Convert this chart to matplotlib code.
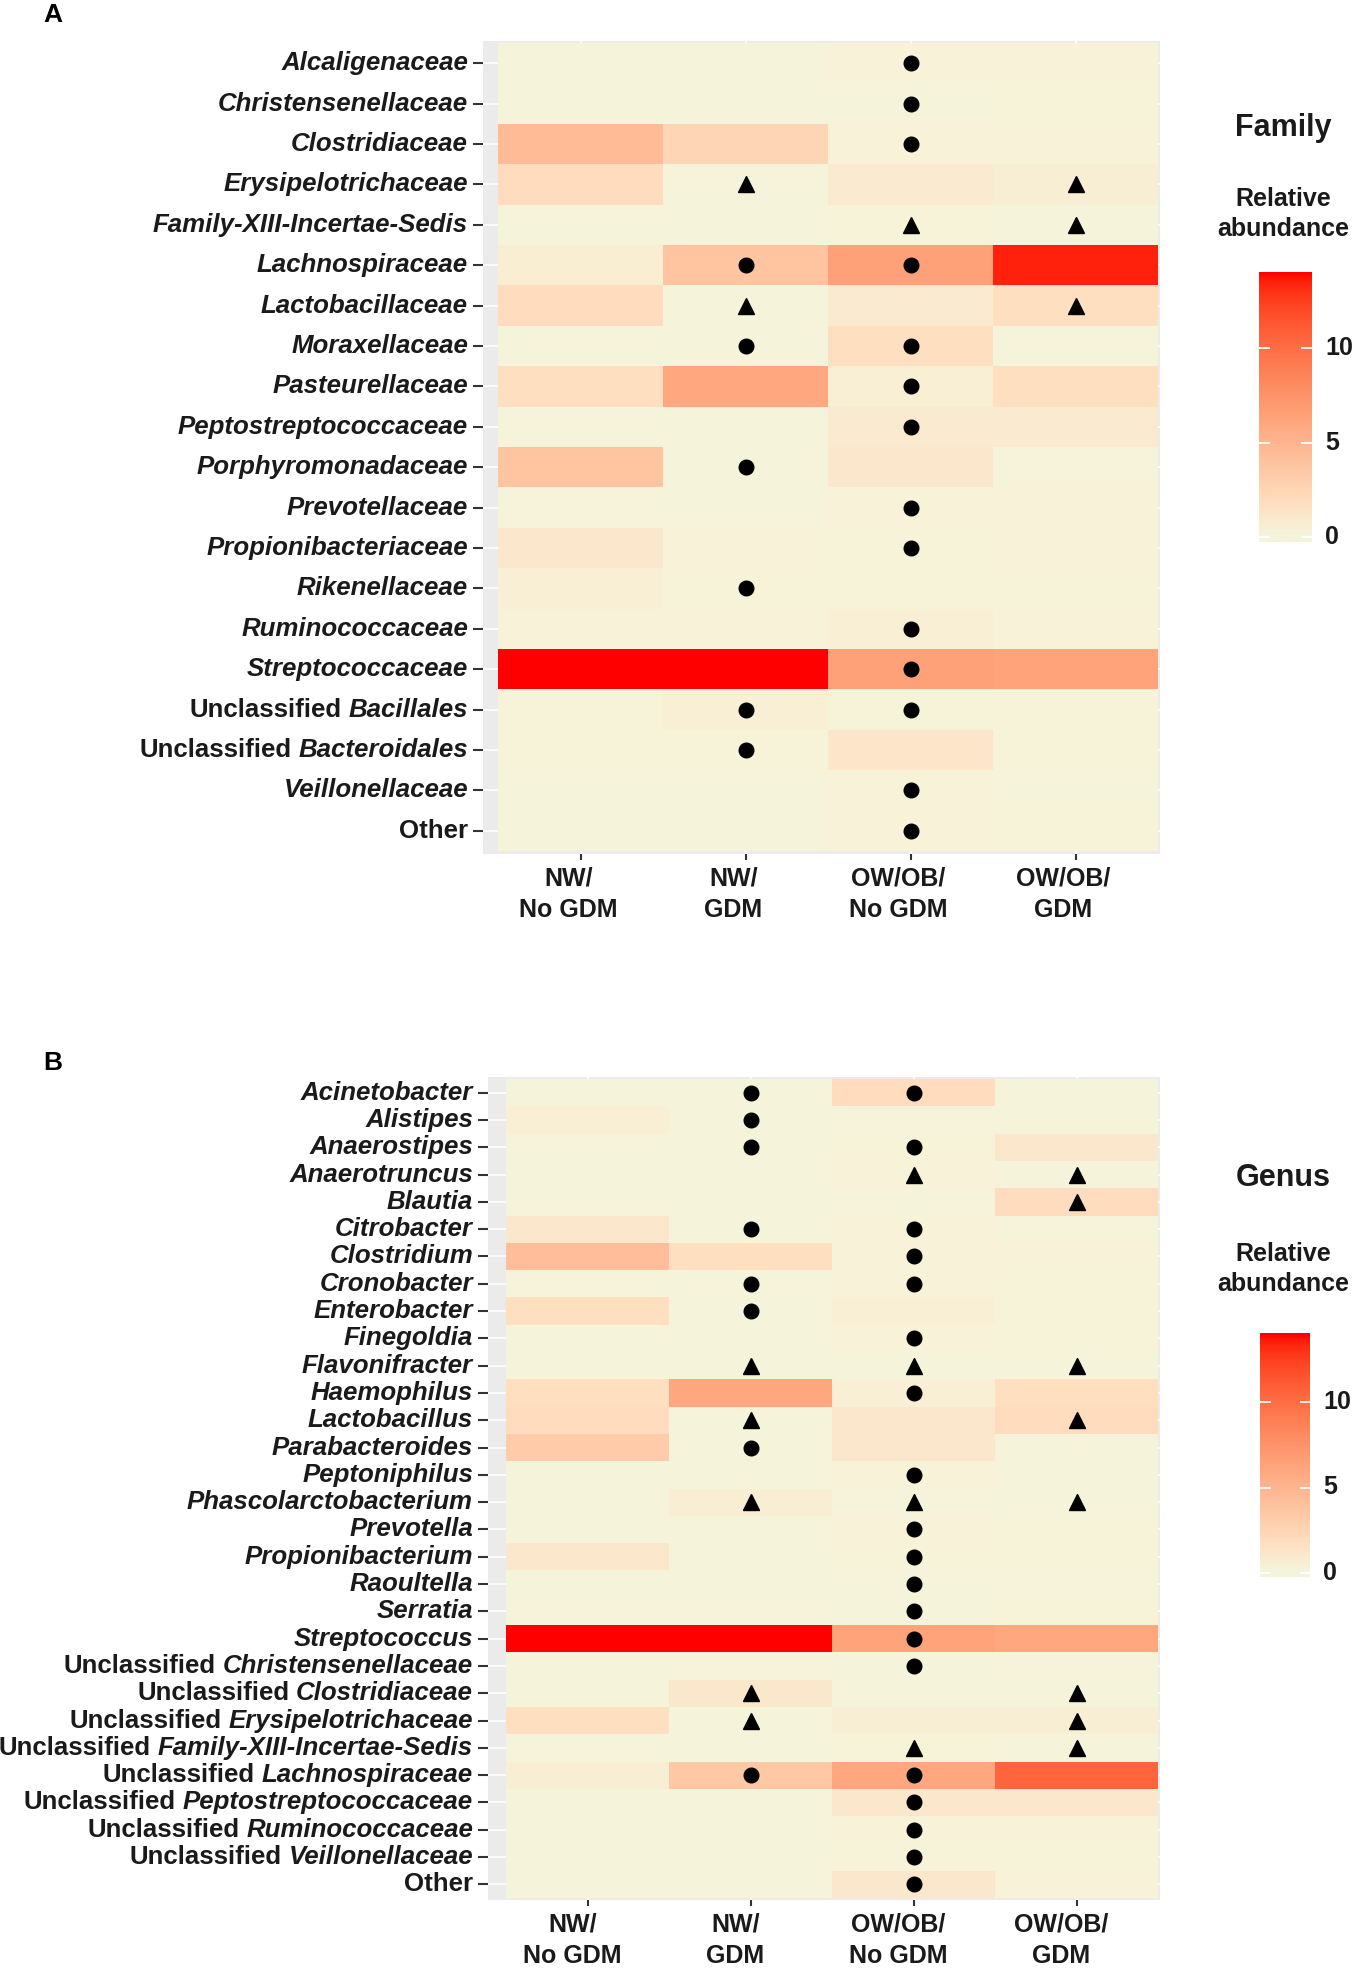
import numpy as np
import matplotlib
matplotlib.use("Agg")
import matplotlib.pyplot as plt
from matplotlib.colors import ListedColormap, Normalize
from matplotlib.transforms import ScaledTranslation

plt.rcParams['font.family'] = ['Liberation Sans', 'DejaVu Sans']

groups = ["NW/\nNo GDM", "NW/\nGDM", "OW/OB/\nNo GDM", "OW/OB/\nGDM"]

family_names = [
    "Alcaligenaceae", "Christensenellaceae", "Clostridiaceae", "Erysipelotrichaceae",
    "Family-XIII-Incertae-Sedis", "Lachnospiraceae", "Lactobacillaceae", "Moraxellaceae",
    "Pasteurellaceae", "Peptostreptococcaceae", "Porphyromonadaceae", "Prevotellaceae",
    "Propionibacteriaceae", "Rikenellaceae", "Ruminococcaceae", "Streptococcaceae",
    "Unclassified Bacillales", "Unclassified Bacteroidales", "Veillonellaceae", "Other",
]
family_values = [
    [0.1, 0.1, 0.3, 0.3],
    [0.1, 0.1, 0.1, 0.2],
    [4.5, 2.5, 0.3, 0.3],
    [2.0, 0.1, 0.8, 0.6],
    [0.1, 0.1, 0.2, 0.1],
    [0.7, 3.8, 6.5, 13.5],
    [2.0, 0.1, 0.8, 1.8],
    [0.1, 0.1, 1.8, 0.1],
    [1.8, 6.0, 0.5, 1.8],
    [0.1, 0.1, 0.8, 0.8],
    [3.8, 0.1, 1.0, 0.1],
    [0.1, 0.1, 0.3, 0.3],
    [1.0, 0.3, 0.2, 0.3],
    [0.5, 0.2, 0.2, 0.2],
    [0.3, 0.3, 0.5, 0.3],
    [14.0, 14.0, 6.5, 6.3],
    [0.2, 0.5, 0.2, 0.2],
    [0.2, 0.2, 1.3, 0.2],
    [0.1, 0.1, 0.3, 0.1],
    [0.1, 0.1, 0.3, 0.2],
]
# significance markers per group: '.' none, 'o' circle, '^' triangle
family_marks = [
    "..o.", "..o.", "..o.", ".^.^", "..^^", ".oo.", ".^.^", ".oo.", "..o.", "..o.",
    ".o..", "..o.", "..o.", ".o..", "..o.", "..o.", ".oo.", ".o..", "..o.", "..o.",
]

genus_names = [
    "Acinetobacter", "Alistipes", "Anaerostipes", "Anaerotruncus", "Blautia",
    "Citrobacter", "Clostridium", "Cronobacter", "Enterobacter", "Finegoldia",
    "Flavonifracter", "Haemophilus", "Lactobacillus", "Parabacteroides", "Peptoniphilus",
    "Phascolarctobacterium", "Prevotella", "Propionibacterium", "Raoultella", "Serratia",
    "Streptococcus", "Unclassified Christensenellaceae", "Unclassified Clostridiaceae",
    "Unclassified Erysipelotrichaceae", "Unclassified Family-XIII-Incertae-Sedis",
    "Unclassified Lachnospiraceae", "Unclassified Peptostreptococcaceae",
    "Unclassified Ruminococcaceae", "Unclassified Veillonellaceae", "Other",
]
genus_values = [
    [0.1, 0.1, 2.0, 0.1],
    [0.5, 0.1, 0.1, 0.1],
    [0.1, 0.1, 0.2, 1.0],
    [0.1, 0.1, 0.3, 0.1],
    [0.1, 0.1, 0.1, 2.0],
    [1.0, 0.1, 0.3, 0.1],
    [4.3, 1.8, 0.3, 0.3],
    [0.1, 0.1, 0.3, 0.2],
    [1.8, 0.1, 0.5, 0.2],
    [0.1, 0.1, 0.3, 0.2],
    [0.1, 0.1, 0.1, 0.1],
    [1.8, 6.0, 0.5, 1.8],
    [2.0, 0.1, 1.0, 2.0],
    [3.3, 0.1, 1.0, 0.1],
    [0.1, 0.1, 0.3, 0.1],
    [0.1, 0.6, 0.1, 0.1],
    [0.1, 0.1, 0.3, 0.2],
    [1.0, 0.1, 0.2, 0.2],
    [0.1, 0.1, 0.1, 0.1],
    [0.1, 0.1, 0.1, 0.2],
    [14.0, 14.0, 6.3, 6.0],
    [0.1, 0.1, 0.1, 0.1],
    [0.1, 1.0, 0.1, 0.1],
    [1.8, 0.1, 0.6, 0.6],
    [0.1, 0.1, 0.2, 0.1],
    [0.6, 3.5, 6.0, 10.5],
    [0.1, 0.1, 1.0, 1.0],
    [0.1, 0.1, 0.3, 0.3],
    [0.1, 0.1, 0.2, 0.2],
    [0.1, 0.1, 1.0, 0.3],
]
genus_marks = [
    ".oo.", ".o..", ".oo.", "..^^", "...^", ".oo.", "..o.", ".oo.", ".o..", "..o.",
    ".^^^", "..o.", ".^.^", ".o..", "..o.", ".^^^", "..o.", "..o.", "..o.", "..o.",
    "..o.", "..o.", ".^.^", ".^.^", "..^^", ".oo.", "..o.", "..o.", "..o.", "..o.",
]

cbar_ticks = [0, 5, 10]
vmax = 14.0

# ---- ggplot-like Lab gradient (beige -> red) ----
M = np.array([[0.4124564, 0.3575761, 0.1804375],
              [0.2126729, 0.7151522, 0.0721750],
              [0.0193339, 0.1191920, 0.9503041]])
Minv = np.linalg.inv(M)
WP = np.array([0.95047, 1.0, 1.08883])


def rgb2lab(rgb):
    c = np.asarray(rgb, float)
    lin = np.where(c <= 0.04045, c / 12.92, ((c + 0.055) / 1.055) ** 2.4)
    xyz = M @ lin / WP
    f = np.where(xyz > 0.008856, np.cbrt(xyz), 7.787 * xyz + 16 / 116)
    return np.array([116 * f[1] - 16, 500 * (f[0] - f[1]), 200 * (f[1] - f[2])])


def lab2rgb(lab):
    L, a, b = lab
    fy = (L + 16) / 116
    f = np.array([fy + a / 500, fy, fy - b / 200])
    xyz = np.where(f ** 3 > 0.008856, f ** 3, (f - 16 / 116) / 7.787) * WP[:, None]
    lin = Minv @ xyz
    lin = np.clip(lin, 0, 1)
    s = np.where(lin <= 0.0031308, 12.92 * lin, 1.055 * lin ** (1 / 2.4) - 0.055)
    return np.clip(s, 0, 1).T


low = rgb2lab(np.array([245, 245, 220]) / 255)
high = rgb2lab(np.array([255, 0, 0]) / 255)
tt = np.linspace(0, 1, 256)
labs = low[:, None] * (1 - tt) + high[:, None] * tt
cmap = ListedColormap(lab2rgb(labs))
norm = Normalize(0, vmax)

W, H = 1356, 1968
fig = plt.figure(figsize=(W / 100, H / 100), dpi=100)
TXT = '#1a1a1a'
FS = 18.6


def draw_panel(px_left, px_right, px_top, px_bottom, tile_left, tile_right, tile_top, tile_bottom,
               names, vals, marks, letter, title, cb, xlab_dx):
    ax = fig.add_axes([px_left / W, 1 - px_bottom / H, (px_right - px_left) / W, (px_bottom - px_top) / H])
    n = len(names)
    V = np.array(vals)
    colw = (tile_right - tile_left) / 4
    rowh = (tile_bottom - tile_top) / n
    ax.set_facecolor('#EBEBEB')
    ax.pcolormesh(np.arange(0.5, 5, 1), np.arange(-0.5, n, 1), V, cmap=cmap, norm=norm,
                  shading='flat', zorder=1)
    for i, row in enumerate(marks):
        for j, ch in enumerate(row):
            if ch == 'o':
                ax.plot(j + 1, i, 'o', ms=10.5, color='black', zorder=3)
            elif ch == '^':
                ax.plot(j + 1, i, '^', ms=11.5, color='black', zorder=3)
    ax.set_xlim(0.5 - (tile_left - px_left) / colw, 4.5 + (px_right - tile_right) / colw)
    ax.set_ylim(n - 0.5 + (px_bottom - tile_bottom) / rowh, -0.5 - (tile_top - px_top) / rowh)
    ax.set_xticks(range(1, 5))
    ax.set_xticklabels([])
    ax.set_yticks(range(n))
    ax.set_yticklabels([])
    ax.tick_params(axis='y', length=7, width=1.5, color='#333333')
    ax.tick_params(axis='x', length=4, width=1.5, color='#333333')
    for s in ax.spines.values():
        s.set_visible(False)
    ax.grid(True, color='white', lw=1.2)
    ax.set_axisbelow(True)

    xtrans = ax.get_xaxis_transform() + ScaledTranslation(xlab_dx / 100, -12.5 / 100, fig.dpi_scale_trans)
    for j, g in enumerate(groups):
        ax.text(j + 1, 0, g, transform=xtrans, ha='center', va='top', multialignment='center',
                fontsize=18, fontweight='bold', color=TXT, linespacing=1.38)

    trans = ax.get_yaxis_transform() + ScaledTranslation(-15 / 100, 0, fig.dpi_scale_trans)
    for i, name in enumerate(names):
        if name.startswith('Unclassified '):
            t = ax.text(0, i, name[len('Unclassified '):], transform=trans, ha='right', va='center',
                        fontsize=FS, fontweight='bold', style='italic', color=TXT)
            ax.annotate('Unclassified', xy=(0, 0), xycoords=t, xytext=(-5, 0), textcoords='offset points',
                        ha='right', va='bottom', fontsize=FS, fontweight='bold', color=TXT)
        elif name == 'Other':
            ax.text(0, i, name, transform=trans, ha='right', va='center',
                    fontsize=FS, fontweight='bold', color=TXT)
        else:
            ax.text(0, i, name, transform=trans, ha='right', va='center',
                    fontsize=FS, fontweight='bold', style='italic', color=TXT)

    # panel letter
    fig.text(53 / W, 1 - letter[1] / H, letter[0], fontsize=19, fontweight='bold',
             ha='center', va='center', color='black')

    # legend
    cx = 1283
    fig.text(cx / W, 1 - title[1] / H, title[0], fontsize=22, fontweight='bold',
             ha='center', va='center', color=TXT)
    fig.text(cx / W, 1 - title[2] / H, "Relative\nabundance", fontsize=18, fontweight='bold',
             ha='center', va='center', color=TXT, linespacing=1.32)
    cl, cr, ct, cbm, zero_px, ten_px = cb
    per = (zero_px - ten_px) / 10.0
    ymin = -(cbm - zero_px) / per
    ymax = (zero_px - ct) / per
    cax = fig.add_axes([cl / W, 1 - cbm / H, (cr - cl) / W, (cbm - ct) / H])
    grad = np.linspace(ymin, ymax, 300)[:, None]
    cax.imshow(grad, aspect='auto', cmap=cmap, norm=norm, extent=[0, 1, ymin, ymax], origin='lower')
    cax.set_xlim(0, 1)
    cax.set_ylim(ymin, ymax)
    cax.axis('off')
    for v in cbar_ticks:
        cax.plot([0, 0.19], [v, v], color='white', lw=1.3)
        cax.plot([0.81, 1], [v, v], color='white', lw=1.3)
        cax.text(1 + 13 / (cr - cl), v, str(v), transform=cax.get_yaxis_transform(),
                 ha='left', va='center', fontsize=18, fontweight='bold', color=TXT)
    return ax


draw_panel(483, 1160, 41, 854, 498, 1158, 43, 851, family_names, family_values, family_marks,
           ('A', 15), ('Family', 128, 214), (1259, 1312, 272, 542, 537, 348), -12)
draw_panel(488, 1160, 1077, 1900, 506, 1158, 1079, 1898, genus_names, genus_values, genus_marks,
           ('B', 1063), ('Genus', 1178, 1269), (1260, 1310, 1333, 1577, 1573, 1402), -15)

fig.savefig('out.png', dpi=100)
